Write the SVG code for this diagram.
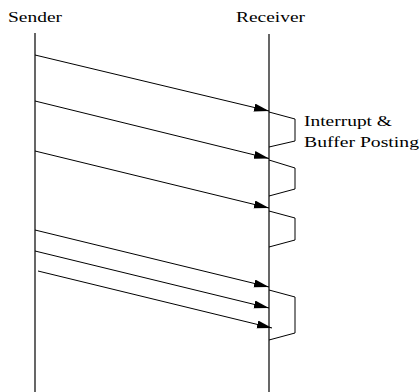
<svg xmlns="http://www.w3.org/2000/svg" width="420" height="392" viewBox="0 0 420 392">
<style>
text{font-family:"Liberation Serif","DejaVu Serif","Times New Roman",serif;font-size:15px;fill:#000}
.life{stroke:#000;stroke-width:1.2;fill:none}
.msg{stroke:#000;stroke-width:1;fill:none;marker-end:url(#ah)}
.br{stroke:#000;stroke-width:1;fill:none}
</style>
<defs>
<marker id="ah" markerUnits="userSpaceOnUse" markerWidth="16" markerHeight="9" refX="15" refY="4" orient="auto">
<path d="M0,0 L15,4 L0,8 z" fill="#000"/>
</marker>
</defs>
<rect width="420" height="392" fill="#fff"/>
<g id="sender">
<text x="8" y="21.5" textLength="54" lengthAdjust="spacingAndGlyphs">Sender</text>
<line class="life" x1="35" y1="33" x2="35" y2="392"/>
</g>
<g id="receiver">
<text x="236" y="21.5" textLength="69" lengthAdjust="spacingAndGlyphs">Receiver</text>
<line class="life" x1="269" y1="34" x2="269" y2="392"/>
</g>
<g id="label">
<text x="304" y="126" textLength="88" lengthAdjust="spacingAndGlyphs">Interrupt &amp;</text>
<text x="304" y="147" textLength="115" lengthAdjust="spacingAndGlyphs">Buffer Posting</text>
</g>
<g id="connectors">
<line class="msg" x1="35" y1="55" x2="269" y2="111"/>
<line class="msg" x1="35" y1="101" x2="269" y2="158.5"/>
<line class="msg" x1="35" y1="151" x2="269" y2="208"/>
<line class="msg" x1="35" y1="230" x2="269" y2="287"/>
<line class="msg" x1="35" y1="251" x2="269" y2="308"/>
<line class="msg" x1="38" y1="271" x2="272" y2="328"/>
</g>
<g id="brackets">
<polyline class="br" points="269,112 295,119 295,141 269,147"/>
<polyline class="br" points="269,160 295,168 295,189 269,196"/>
<polyline class="br" points="269,211 295,218 295,240 269,247"/>
<polyline class="br" points="269,290 295,297 295,333 269,340"/>
</g>
</svg>
